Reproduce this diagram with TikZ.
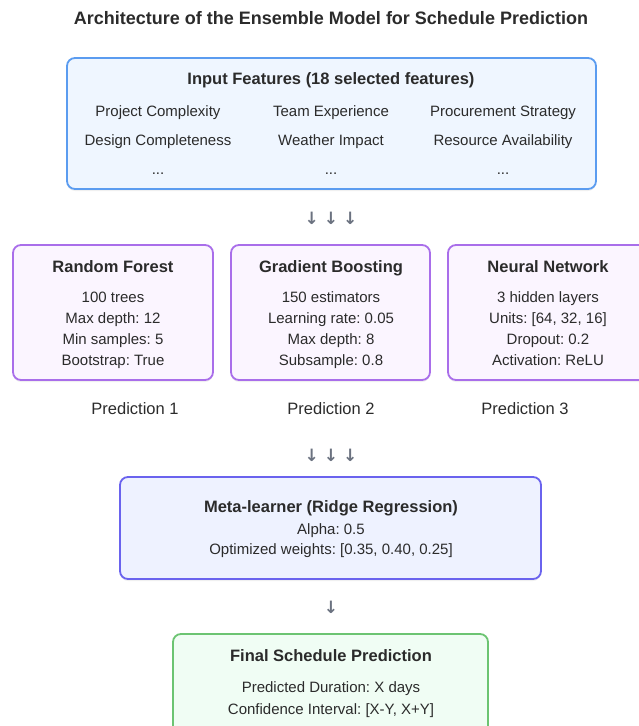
\documentclass[tikz,border=0pt]{standalone}
\usepackage{fontspec}
\setmainfont{Liberation Sans}
\newfontfamily\symfont{DejaVu Sans}
\usetikzlibrary{shadows}
\frenchspacing
\definecolor{txt}{HTML}{2B2B2B}
\definecolor{arrowgray}{HTML}{6B7280}
\definecolor{inFill}{HTML}{EFF6FF}
\definecolor{inDraw}{HTML}{5B9CF0}
\definecolor{mdFill}{HTML}{FBF5FF}
\definecolor{mdDraw}{HTML}{A96EEA}
\definecolor{metaFill}{HTML}{EEF2FF}
\definecolor{metaDraw}{HTML}{6A63EE}
\definecolor{finFill}{HTML}{F0FDF4}
\definecolor{finDraw}{HTML}{6CC472}
\tikzset{
  panel/.style={draw, line width=1.8pt, rounded corners=8pt,
    drop shadow={opacity=0.12, shadow xshift=0pt, shadow yshift=-2pt}},
  head/.style={font=\fontsize{16.5}{19}\selectfont\bfseries, text=txt,
    text height=12pt, text depth=3.5pt},
  body/.style={font=\fontsize{15}{18}\selectfont, text=txt,
    text height=11pt, text depth=3pt},
  pred/.style={font=\fontsize{16.5}{19}\selectfont, text=txt,
    text height=12pt, text depth=3.5pt},
  glyph/.style={font=\symfont\bfseries\fontsize{17}{19}\selectfont, text=arrowgray},
}
\newcommand{\tripledown}{↓\hspace{5pt}↓\hspace{5pt}↓}
\begin{document}
\begin{tikzpicture}[x=1pt,y=-1pt]
\useasboundingbox (0,0) rectangle (638,726);

% title
\node[font=\fontsize{18}{21}\selectfont\bfseries, text=txt] (title) at (331,18)
  {Architecture of the Ensemble Model for Schedule Prediction};

% input features panel
\draw[panel, draw=inDraw, fill=inFill] (67,58) rectangle (596,189);
\node[head] (inhead) at (331,80) {Input Features (18 selected features)};
\node[body] (f1) at (158,112) {Project Complexity};
\node[body] (f2) at (331,112) {Team Experience};
\node[body] (f3) at (503,112) {Procurement Strategy};
\node[body] (f4) at (158,141) {Design Completeness};
\node[body] (f5) at (331,141) {Weather Impact};
\node[body] (f6) at (503,141) {Resource Availability};
\node[body] (d1) at (158,170) {...};
\node[body] (d2) at (331,170) {...};
\node[body] (d3) at (503,170) {...};

\node[glyph] (a1) at (331,218) {\tripledown};

% base models
\draw[panel, draw=mdDraw, fill=mdFill] (13,245) rectangle (213,380);
\draw[panel, draw=mdDraw, fill=mdFill] (231,245) rectangle (430,380);
\draw[panel, draw=mdDraw, fill=mdFill] (448,245) rectangle (648,380);

\node[head] (rf) at (113,268) {Random Forest};
\node[body] (rf1) at (113,298) {100 trees};
\node[body] (rf2) at (113,319) {Max depth: 12};
\node[body] (rf3) at (113,340) {Min samples: 5};
\node[body] (rf4) at (113,361) {Bootstrap: True};

\node[head] (gb) at (331,268) {Gradient Boosting};
\node[body] (gb1) at (331,298) {150 estimators};
\node[body] (gb2) at (331,319) {Learning rate: 0.05};
\node[body] (gb3) at (331,340) {Max depth: 8};
\node[body] (gb4) at (331,361) {Subsample: 0.8};

\node[head] (nn) at (548,268) {Neural Network};
\node[body] (nn1) at (548,298) {3 hidden layers};
\node[body] (nn2) at (548,319) {Units: [64, 32, 16]};
\node[body] (nn3) at (548,340) {Dropout: 0.2};
\node[body] (nn4) at (548,361) {Activation: ReLU};

\node[pred] (p1) at (135,410) {Prediction 1};
\node[pred] (p2) at (331,410) {Prediction 2};
\node[pred] (p3) at (525,410) {Prediction 3};

\node[glyph] (a2) at (331,455) {\tripledown};

% meta-learner
\draw[panel, draw=metaDraw, fill=metaFill] (120,477) rectangle (541,579);
\node[head] (meta) at (331,508) {Meta-learner (Ridge Regression)};
\node[body] (m1) at (331,530) {Alpha: 0.5};
\node[body] (m2) at (331,550) {Optimized weights: [0.35, 0.40, 0.25]};

\node[glyph] (a3) at (331,607) {↓};

% final output
\draw[panel, draw=finDraw, fill=finFill] (173,634) rectangle (488,740);
\node[head] (fin) at (331,657) {Final Schedule Prediction};
\node[body] (o1) at (331,688) {Predicted Duration: X days};
\node[body] (o2) at (331,710) {Confidence Interval: [X-Y, X+Y]};
\end{tikzpicture}
\end{document}
